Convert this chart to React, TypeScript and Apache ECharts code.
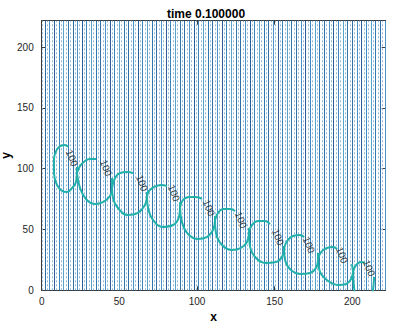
import React, { useEffect, useRef } from 'react';
import * as echarts from 'echarts';

const titleText = 'time 0.100000';
const xName = 'x';
const yName = 'y';
const xTicks = [0, 50, 100, 150, 200];
const yTicks = [0, 50, 100, 150, 200];
const contourLevel = '100';

// vertical contour lines (x positions)
const solidX = [2, 5, 8, 11, 14, 17, 20, 23, 26, 29, 32, 35, 38, 41, 44, 47, 50, 53, 56, 59, 62, 65, 68, 71, 74, 77, 80, 83, 86, 89, 92, 95, 98, 101, 104, 107, 110, 113, 116, 119, 122, 125, 128, 131, 134, 137, 140, 143, 146, 149, 152, 155, 158, 161, 164, 167, 170, 173, 176, 179, 182, 185, 188, 191, 194, 197, 200, 203, 206, 209, 212, 215, 218, 221];
const dottedX = [0.5, 3.5, 6.5, 9.5, 12.5, 15.5, 18.5, 21.5, 24.5, 27.5, 30.5, 33.5, 36.5, 39.5, 42.5, 45.5, 48.5, 51.5, 54.5, 57.5, 60.5, 63.5, 66.5, 69.5, 72.5, 75.5, 78.5, 81.5, 84.5, 87.5, 90.5, 93.5, 96.5, 99.5, 102.5, 105.5, 108.5, 111.5, 114.5, 117.5, 120.5, 123.5, 126.5, 129.5, 132.5, 135.5, 138.5, 141.5, 144.5, 147.5, 150.5, 153.5, 156.5, 159.5, 162.5, 165.5, 168.5, 171.5, 174.5, 177.5, 180.5, 183.5, 186.5, 189.5, 192.5, 195.5, 198.5, 201.5, 204.5, 207.5, 210.5, 213.5, 216.5, 219.5];

// level-100 contour: upper arcs (left cusp -> top -> label gap)
const upperArcs = [
  [[16.9, 117.9], [15.0, 119.5], [10.5, 117.0], [7.9, 107.2], [7.9, 96.5], [9.9, 86.6], [13.1, 81.7], [16.3, 80.8], [19.5, 84.1], [22.1, 89.1], [22.7, 96.5]],
  [[22.7, 96.5], [24.7, 102.2], [27.9, 106.3], [31.1, 108.0], [35.0, 108.0]],
  [[45.3, 84.1], [47.2, 92.4], [50.4, 96.5], [54.9, 97.3], [58.8, 96.5]],
  [[67.8, 76.7], [69.1, 81.7], [72.3, 84.9], [76.8, 86.6], [80.7, 85.8]],
  [[89.1, 68.5], [91.0, 74.3], [94.9, 76.7], [99.4, 76.7], [103.2, 75.1]],
  [[111.6, 57.8], [113.5, 63.6], [116.7, 66.9], [121.3, 66.9], [124.5, 65.2]],
  [[133.5, 47.9], [135.4, 53.7], [139.3, 57.0], [143.8, 57.0], [147.0, 54.5]],
  [[156.0, 34.0], [158.0, 40.5], [161.8, 44.7], [166.3, 45.5], [168.9, 43.8]],
  [[177.9, 24.9], [179.9, 31.5], [183.7, 34.8], [187.6, 35.6], [190.2, 34.0]],
  [[200.5, 15.1], [202.4, 20.8], [205.6, 23.3], [208.2, 22.5]],
];
// lower arcs (right cusp -> bottom -> left cusp)
const lowerArcs = [
  [[45.3, 84.1], [44.0, 77.6], [39.5, 72.6], [34.3, 71.0], [28.5, 75.1], [24.7, 84.1], [22.7, 96.5]],
  [[67.8, 76.7], [66.5, 70.2], [62.0, 63.6], [55.6, 61.9], [49.1, 67.7], [45.9, 75.9], [45.3, 84.1]],
  [[89.1, 68.5], [88.4, 60.3], [84.6, 53.7], [78.1, 52.1], [71.7, 57.8], [68.5, 67.7], [67.8, 76.7]],
  [[111.6, 57.8], [110.3, 49.6], [106.4, 43.8], [100.6, 42.2], [94.2, 46.3], [90.3, 56.2], [89.1, 68.5]],
  [[133.5, 47.9], [132.2, 39.7], [128.3, 34.8], [122.5, 33.1], [116.1, 37.3], [112.2, 47.1], [111.6, 57.8]],
  [[156.0, 34.0], [154.7, 27.4], [150.9, 23.3], [144.4, 22.5], [138.0, 26.6], [134.1, 36.4], [133.5, 47.9]],
  [[177.9, 24.9], [176.6, 18.3], [172.8, 14.2], [167.0, 13.4], [160.5, 16.7], [156.7, 24.9], [156.0, 34.0]],
  [[200.5, 15.1], [199.2, 9.3], [196.0, 5.2], [190.8, 4.4], [184.4, 7.7], [179.2, 15.1], [177.9, 24.9]],
  [[200.5, 15.1], [200.8, 6.0], [201.7, -3.0]],
];
// short pieces from the label gap down to the right cusp
const labelStems = [
  [[22.7, 101.4], [22.7, 96.5]],
  [[45.3, 92.4], [45.3, 84.1]],
  [[67.8, 80.8], [67.8, 76.7]],
  [[89.1, 72.6], [89.1, 68.5]],
  [[111.6, 61.1], [111.6, 57.8]],
  [[133.5, 51.2], [133.5, 47.9]],
  [[156.0, 36.4], [156.0, 34.0]],
  [[177.9, 30.7], [177.9, 24.9]],
  [[199.8, 21.6], [200.5, 15.1]],
  [[214.0, 10.9], [213.7, 4.4], [213.0, -3.0]],
];
const labelPoints = [
  [19.5, 108.8], [41.4, 100.6], [64.6, 88.2], [85.2, 80.0], [107.7, 67.7],
  [128.3, 57.8], [152.2, 43.8], [172.1, 37.3], [193.4, 29.0], [210.8, 18.3],
];

const X_MAX = 221.5;
const Y_MAX = 221.7;
const FONT = '"Liberation Sans", Arial, Helvetica, sans-serif';
const solidPalette = ['#2f6fa6', '#4b93c6', '#2a5f95', '#3d86bd', '#5aa3cf', '#3278b0'];

export default function App() {
  const ref = useRef<HTMLDivElement>(null);
  useEffect(() => {
    const chart = echarts.init(ref.current as HTMLDivElement, null, { renderer: 'svg' });
    const curveColor = '#22b0aa';
    const series: any[] = [];
    series.push({
      type: 'lines', coordinateSystem: 'cartesian2d', silent: true, z: 1,
      data: dottedX.map((x) => ({ coords: [[x, 0], [x, Y_MAX]] })),
      lineStyle: { color: '#8fb6d8', width: 1, type: [2, 2], opacity: 1 },
    });
    series.push({
      type: 'lines', coordinateSystem: 'cartesian2d', silent: true, z: 2,
      data: solidX.map((x, i) => ({ coords: [[x, 0], [x, Y_MAX]], lineStyle: { color: solidPalette[i % solidPalette.length] } })),
      lineStyle: { width: 1, opacity: 1 },
    });
    const curve = (pts: number[][]) => ({
      type: 'line', data: pts, smooth: 0.45, symbol: 'none', silent: true, clip: true, z: 5,
      lineStyle: { color: curveColor, width: 2 },
    });
    upperArcs.forEach((p) => series.push(curve(p)));
    lowerArcs.forEach((p) => series.push(curve(p)));
    labelStems.forEach((p) => series.push(curve(p)));
    series.push({
      type: 'scatter', data: labelPoints, symbol: 'circle', symbolSize: 0, z: 6, silent: true,
      itemStyle: { color: 'rgba(0,0,0,0)' },
      label: { show: true, formatter: contourLevel, rotate: -68, position: 'inside', fontSize: 10, color: '#111', fontFamily: FONT },
    });

    const axisCommon = {
      type: 'value', interval: 50,
      axisLine: { show: true, onZero: false, lineStyle: { color: '#3a3a3a', width: 1 } },
      axisTick: { show: true, inside: true, length: 4, lineStyle: { color: '#3a3a3a' } },
      splitLine: { show: false },
    };
    chart.setOption({
      animation: false,
      title: {
        text: titleText, left: 162, top: 3,
        textStyle: { fontFamily: FONT, fontSize: 12, fontWeight: 'bold', color: '#000' },
      },
      graphic: [
        {
          type: 'text', x: 6, y: 155.5, rotation: Math.PI / 2, silent: true,
          style: { text: yName, fontFamily: FONT, fontSize: 12, fontWeight: 'bold', fill: '#000', align: 'center', verticalAlign: 'middle' },
        },
      ],
      grid: { left: 41.7, right: 7.3, top: 20.7, bottom: 38.7, containLabel: false, outerBoundsMode: 'none' },
      xAxis: [
        {
          ...axisCommon, position: 'bottom', min: xTicks[0], max: X_MAX,
          name: xName, nameLocation: 'middle', nameGap: 21,
          nameTextStyle: { fontFamily: FONT, fontSize: 12, fontWeight: 'bold', color: '#000' },
          axisLabel: { show: true, fontFamily: FONT, fontSize: 10, color: '#262626', margin: 6, showMaxLabel: false,
            formatter: (v: number) => (xTicks.includes(v) ? String(v) : '') },
        },
        {
          ...axisCommon, position: 'top', min: xTicks[0], max: X_MAX,
          axisLabel: { show: false },
        },
      ],
      yAxis: [
        {
          ...axisCommon, position: 'left', min: yTicks[0], max: Y_MAX,
          axisLabel: { show: true, fontFamily: FONT, fontSize: 10, color: '#262626', margin: 8, showMaxLabel: false,
            formatter: (v: number) => (yTicks.includes(v) ? String(v) : '') },
        },
        {
          ...axisCommon, position: 'right', min: yTicks[0], max: Y_MAX,
          axisLabel: { show: false },
        },
      ],
      series,
    });
    return () => chart.dispose();
  }, []);
  return <div ref={ref} style={{ position: 'absolute', left: 0, top: 0, width: 393, height: 329 }} />;
}
